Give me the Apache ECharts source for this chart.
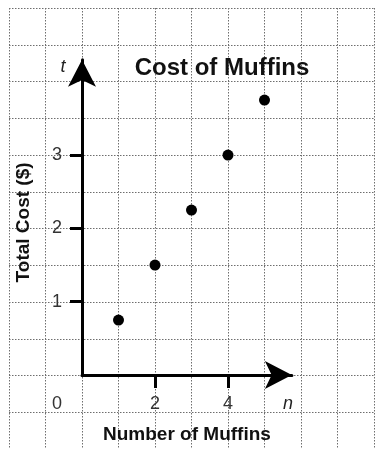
<!DOCTYPE html>
<html>
<head>
<meta charset="utf-8">
<script src="https://cdn.jsdelivr.net/npm/echarts@6/dist/echarts.min.js"></script>
<style>
html,body{margin:0;padding:0;background:#fff;}
#chart{width:376px;height:449px;}
</style>
</head>
<body>
<div id="chart"></div>
<script>
// Data
const muffins = [1, 2, 3, 4, 5];
const totalCost = [0.75, 1.5, 2.25, 3, 3.75];
const xTickValues = [2, 4];
const xLabelValues = [0, 2, 4];
const yTickValues = [1, 2, 3];
const titleText = 'Cost of Muffins';
const xName = 'Number of Muffins';
const yName = 'Total Cost ($)';

const FONT = '"Liberation Sans", Arial, Helvetica, sans-serif';
const unitX = 36.5, unitY = 74;
const originX = 82, originY = 378;
const xMax = 5.75, yMax = 4.3;

const chart = echarts.init(document.getElementById('chart'), null, {renderer: 'canvas'});

const gridLine = {show: true, lineStyle: {color: '#6e6e6e', width: 1, type: [1.5, 1.5]}};

const option = {
  backgroundColor: '#fff',
  animation: false,
  grid: [
    {left: originX - 2 * unitX, top: originY - 5 * unitY, width: 10 * unitX, height: 6 * unitY, containLabel: false},
    {left: originX, top: originY - yMax * unitY, width: xMax * unitX, height: yMax * unitY, containLabel: false}
  ],
  xAxis: [
    {gridIndex: 0, type: 'value', min: -2, max: 8, interval: 1,
     axisLine: {show: false}, axisTick: {show: false}, axisLabel: {show: false}, splitLine: gridLine, z: 0},
    {gridIndex: 1, type: 'value', min: 0, max: xMax, interval: 1,
     axisLine: {show: true, onZero: false, symbol: ['none', 'arrow'], symbolSize: [21, 27],
                lineStyle: {color: '#000', width: 3}},
     axisTick: {show: true, customValues: xTickValues, length: 13, inside: false,
                lineStyle: {color: '#000', width: 3}},
     axisLabel: {show: true, customValues: xLabelValues, margin: 20, fontSize: 18, color: '#333', fontFamily: FONT,
                 formatter: v => v === 0 ? '{z|0}' : String(v),
                 rich: {z: {fontSize: 18, color: '#333', fontFamily: FONT, padding: [0, 50, 0, 0]}}},
     splitLine: {show: false},
     name: xName, nameLocation: 'middle', nameGap: 50,
     nameTextStyle: {fontSize: 19, fontWeight: 'bold', color: '#111', fontFamily: FONT},
     z: 5}
  ],
  yAxis: [
    {gridIndex: 0, type: 'value', min: -1, max: 5, interval: 0.5,
     axisLine: {show: false}, axisTick: {show: false}, axisLabel: {show: false}, splitLine: gridLine, z: 0},
    {gridIndex: 1, type: 'value', min: 0, max: yMax, interval: 1,
     axisLine: {show: true, onZero: false, symbol: ['none', 'arrow'], symbolSize: [21, 27],
                lineStyle: {color: '#000', width: 3}},
     axisTick: {show: true, customValues: yTickValues, length: 12, inside: false,
                lineStyle: {color: '#000', width: 3}},
     axisLabel: {show: true, customValues: yTickValues, margin: 20, fontSize: 18, color: '#333', fontFamily: FONT},
     splitLine: {show: false},
     name: yName, nameLocation: 'middle', nameGap: 49, nameRotate: 90,
     nameTextStyle: {fontSize: 19, fontWeight: 'bold', color: '#111', fontFamily: FONT, padding: [0, 10, 0, 0]},
     z: 5}
  ],
  graphic: [
    {type: 'text', x: 222, y: 68, z: 10,
     style: {text: titleText, font: 'bold 24px ' + FONT, fill: '#111', textAlign: 'center', textVerticalAlign: 'middle'}},
    {type: 'text', x: 63, y: 67, z: 10,
     style: {text: 't', font: 'italic 18px ' + FONT, fill: '#222', textAlign: 'center', textVerticalAlign: 'middle'}},
    {type: 'text', x: 288, y: 404, z: 10,
     style: {text: 'n', font: 'italic 18px ' + FONT, fill: '#222', textAlign: 'center', textVerticalAlign: 'middle'}}
  ],
  series: [
    {type: 'scatter', xAxisIndex: 1, yAxisIndex: 1, symbol: 'circle', symbolSize: 11,
     itemStyle: {color: '#000', opacity: 1}, z: 6,
     data: muffins.map((m, i) => [m, totalCost[i]])}
  ]
};
chart.setOption(option);
</script>
</body>
</html>
